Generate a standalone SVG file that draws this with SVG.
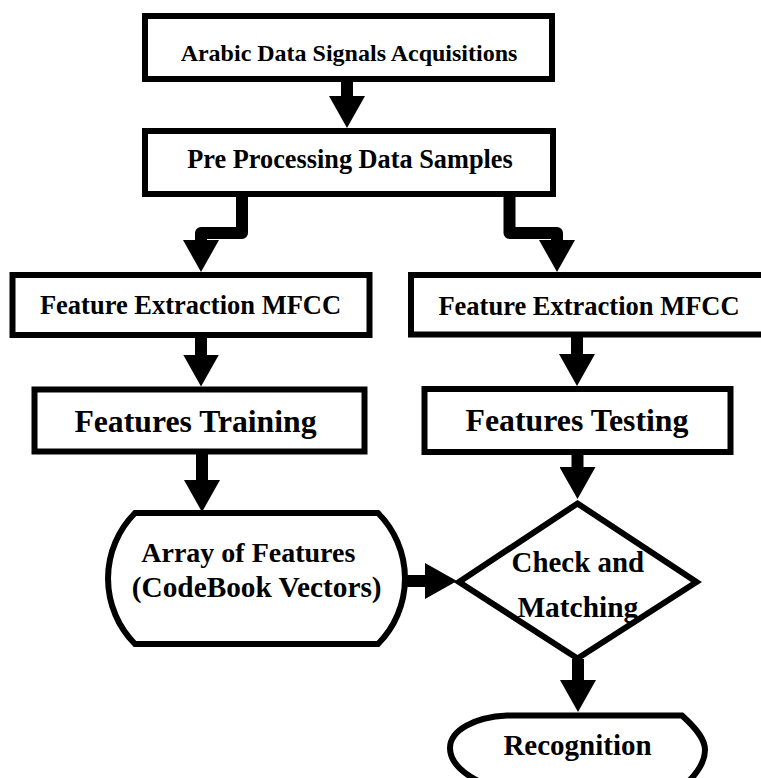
<svg xmlns="http://www.w3.org/2000/svg" width="761" height="778" viewBox="0 0 761 778" font-family="Liberation Serif, Times New Roman, serif">
<defs>
<style>
.box{fill:#fff;stroke:#000;stroke-width:6}
.t{font-family:Liberation Serif,serif;font-weight:bold;fill:#000;text-anchor:middle}
.c{fill:none;stroke:#000;stroke-width:12;stroke-linejoin:round;marker-end:url(#ah)}
</style>
<marker id="ah" markerUnits="userSpaceOnUse" viewBox="0 0 32 36" refX="16" refY="18" markerWidth="32" markerHeight="36" orient="auto">
<path d="M0,0 L32,18 L0,36 Z" fill="#000"/>
</marker>
</defs>
<rect width="761" height="778" fill="#fff"/>
<g id="n1"><rect class="box" x="145" y="16" width="407" height="63"/><text class="t" x="349" y="61" font-size="24">Arabic Data Signals Acquisitions</text></g>
<g id="n2"><rect class="box" x="145" y="131" width="408" height="63"/><text class="t" x="350" y="168" font-size="26.3">Pre Processing Data Samples</text></g>
<g id="n3"><rect class="box" x="12.5" y="275" width="357" height="60"/><text class="t" x="190.5" y="314" font-size="26.5">Feature Extraction MFCC</text></g>
<g id="n4"><rect class="box" x="411" y="275" width="360" height="59.5"/><text class="t" x="589" y="314.5" font-size="26.5">Feature Extraction MFCC</text></g>
<g id="n5"><rect class="box" x="34.5" y="389.5" width="330" height="62"/><text class="t" x="195.5" y="431.5" font-size="31.7">Features Training</text></g>
<g id="n6"><rect class="box" x="424.5" y="389" width="306" height="63"/><text class="t" x="577" y="430.5" font-size="31.8">Features Testing</text></g>
<g id="n7"><path class="box" d="M135 513 H378 A93 93 0 0 1 378 644 H135 A93 93 0 0 1 135 513 Z"/><text class="t" x="248.3" y="561.5" font-size="28">Array of Features</text><text class="t" x="256.7" y="596.5" font-size="29.3">(CodeBook Vectors)</text></g>
<g id="n8"><path class="box" d="M577.5 503.5 L696.5 582 L577.5 658.5 L459 582 Z"/><text class="t" x="577.8" y="571.5" font-size="28.9">Check and</text><text class="t" x="577.8" y="616.5" font-size="29.4">Matching</text></g>
<g id="n9"><path class="box" d="M507 715.5 H682 C698 730 705 740 705 750 C705 762 698 772 688 782 H480 C460 772 450 760 450 748 C450 730 475 717 507 715.5 Z"/><text class="t" x="577.5" y="755" font-size="29">Recognition</text></g>
<g id="connectors">
<path class="c" d="M347 79 V112"/>
<path class="c" d="M242 194 V233 H201 V256"/>
<path class="c" d="M509.5 194 V233 H557 V256"/>
<path class="c" d="M201 335 V370.5"/>
<path class="c" d="M577 334 V370"/>
<path class="c" d="M202 452 V496"/>
<path class="c" d="M577.5 452 V483"/>
<path class="c" d="M405 581 H441"/>
<path class="c" d="M578 659 V696"/>
</g>
</svg>
